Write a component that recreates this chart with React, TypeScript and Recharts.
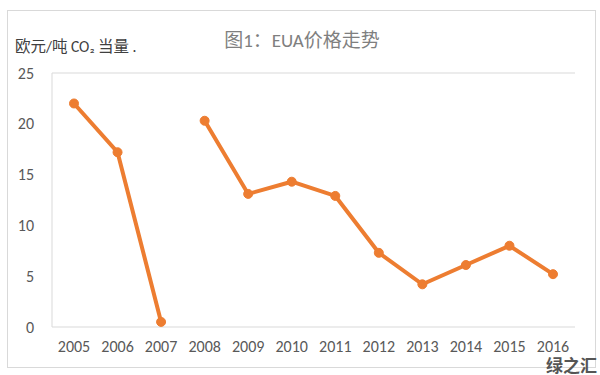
import React from 'react';
import { LineChart, Line, XAxis, YAxis, ReferenceLine } from 'recharts';

const years = ['2005', '2006', '2007', '2008', '2009', '2010', '2011', '2012', '2013', '2014', '2015', '2016'];
// phase I (2005-2007) and phase II/III (2008-) are drawn as separate runs
const phaseOne = [22.0, 17.2, 0.5, null, null, null, null, null, null, null, null, null];
const phaseTwo = [null, null, null, 20.3, 13.1, 14.3, 12.9, 7.3, 4.2, 6.1, 8.0, 5.2];
const yTicks = [0, 5, 10, 15, 20, 25];

const chartTitle = '图1：EUA价格走势';
const unitLabel = '欧元/吨 CO₂ 当量 .';
const watermark = '绿之汇';

const ORANGE = '#ED7D31';
const BORDER = '#D9D9D9';
const TEXT = '#595959';
const FONT = 'Calibri, Carlito, "Noto Sans CJK SC", "Liberation Sans", sans-serif';

const data = years.map((year, i) => ({ year, p1: phaseOne[i], p2: phaseTwo[i] }));

export default function App() {
  return (
    <div style={{ position: 'fixed', left: 0, top: 0, width: 600, height: 375, background: '#fff', fontFamily: FONT, overflow: 'hidden' }}>
      <div
        style={{
          position: 'absolute',
          left: 7,
          top: 10,
          width: 589,
          height: 358,
          border: `1px solid ${BORDER}`,
          boxSizing: 'border-box',
        }}
      />
      <div style={{ position: 'absolute', left: 0, top: 25, width: 604, textAlign: 'center', fontSize: 19, color: '#7F7F7F' }}>
        {chartTitle}
      </div>
      <div style={{ position: 'absolute', left: 15, top: 34, fontSize: 15.5, color: '#404040' }}>{unitLabel}</div>
      <LineChart width={600} height={375} data={data} margin={{ top: 73, right: 25, bottom: 18, left: 0 }}>
        <XAxis
          dataKey="year"
          axisLine={{ stroke: BORDER }}
          tickLine={false}
          tick={{ fill: TEXT, fontSize: 16, fontFamily: FONT }}
          tickMargin={8}
          height={30}
          interval={0}
          padding={{ left: 22, right: 22 }}
        />
        <YAxis
          domain={[0, 25]}
          ticks={yTicks}
          axisLine={{ stroke: BORDER }}
          tickLine={false}
          tick={{ fill: TEXT, fontSize: 16, fontFamily: FONT }}
          tickMargin={12}
          width={52}
        />
        <YAxis yAxisId="right" orientation="right" width={0} tick={false} tickLine={false} axisLine={{ stroke: BORDER }} />
        <ReferenceLine y={25} stroke={BORDER} />
        <Line
          dataKey="p1"
          stroke={ORANGE}
          strokeWidth={4}
          dot={{ r: 4.5, fill: ORANGE, stroke: ORANGE, strokeWidth: 1 }}
          connectNulls={false}
          isAnimationActive={false}
        />
        <Line
          dataKey="p2"
          stroke={ORANGE}
          strokeWidth={4}
          dot={{ r: 4.5, fill: ORANGE, stroke: ORANGE, strokeWidth: 1 }}
          connectNulls={false}
          isAnimationActive={false}
        />
      </LineChart>
      <div
        style={{
          position: 'absolute',
          left: 546,
          top: 356,
          fontSize: 17,
          lineHeight: '18px',
          fontWeight: 700,
          color: '#555',
          fontFamily: '"Noto Sans CJK SC", sans-serif',
          whiteSpace: 'nowrap',
        }}
      >
        {watermark}
      </div>
    </div>
  );
}
